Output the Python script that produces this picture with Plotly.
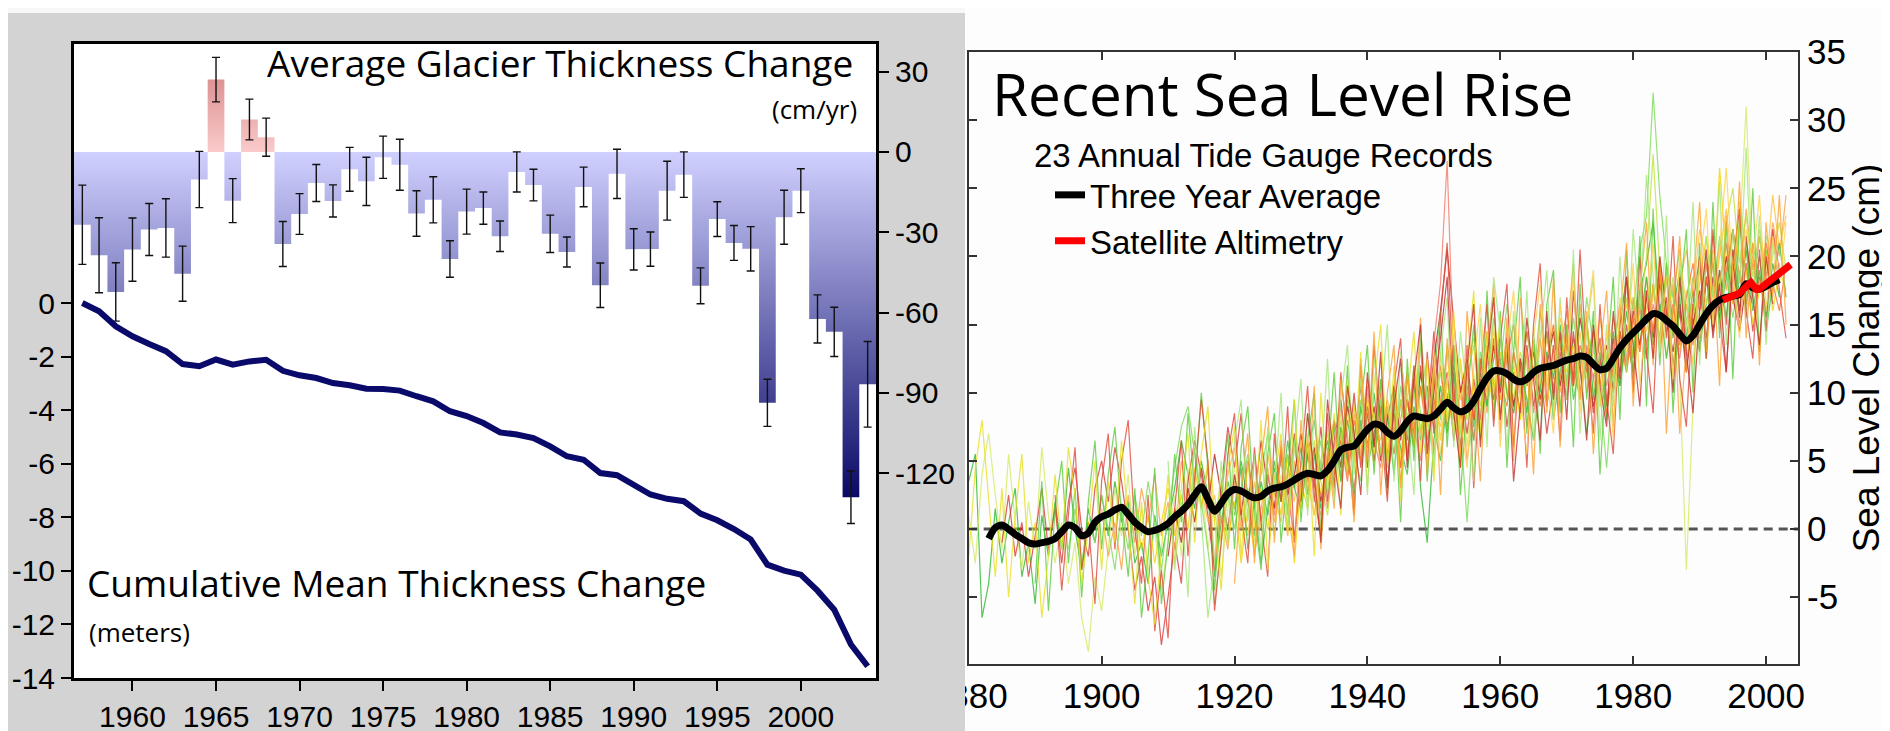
import plotly.graph_objects as go

W, H = 1890, 731
def px_x(p):
    return p / W
def px_y(p):
    return 1 - p / H

ARIAL = "Liberation Sans, Arial, sans-serif"
HUMAN = "Open Sans, Noto Sans, sans-serif"

# ---------------- Left chart: glaciers ----------------
glacier_years = list(range(1957, 2005))
thickness_change_cm_yr = [
    -27.2, -38.6, -52.3, -36.5, -29.0, -28.4, -45.5, -10.3, 27.0, -18.2,
    12.1, 5.5, -34.4, -23.2, -11.6, -18.3, -6.5, -11.0, -2.0, -4.8,
    -23.0, -17.9, -40.0, -22.3, -21.0, -31.5, -7.5, -12.4, -30.6, -37.4,
    -13.1, -49.8, -8.2, -36.4, -36.3, -14.5, -8.5, -50.0, -25.1, -34.0,
    -36.2, -93.7, -24.4, -14.5, -62.4, -67.2, -129.0, -86.8]
thickness_error_cm_yr = [
    14.8, 14.0, 10.9, 11.8, 9.7, 10.9, 10.3, 10.5, 8.3, 8.2,
    7.6, 7.1, 8.4, 7.6, 6.9, 6.0, 8.2, 9.0, 7.9, 9.5,
    8.5, 8.6, 6.8, 8.4, 6.0, 5.7, 7.5, 5.9, 7.0, 5.6,
    7.4, 8.3, 9.2, 7.7, 6.4, 11.0, 8.5, 6.7, 6.5, 6.5,
    8.3, 8.8, 10.1, 8.2, 9.0, 9.2, 9.8, 16.0]
cumulative_m = [
    0.0, -0.31, -0.87, -1.24, -1.53, -1.80, -2.28, -2.36, -2.11, -2.30,
    -2.18, -2.12, -2.53, -2.70, -2.80, -2.99, -3.07, -3.20, -3.21, -3.27,
    -3.48, -3.67, -4.04, -4.22, -4.48, -4.83, -4.91, -5.04, -5.35, -5.72,
    -5.85, -6.35, -6.43, -6.80, -7.15, -7.31, -7.40, -7.86, -8.11, -8.44,
    -8.83, -9.77, -9.99, -10.14, -10.74, -11.45, -12.75, -13.56]

glacier_x_ticks = [1960, 1965, 1970, 1975, 1980, 1985, 1990, 1995, 2000]
rate_ticks = [30, 0, -30, -60, -90, -120]
rate_tick_text = ["30", "0", "-30", "-60", "-90", "-120"]
cum_ticks = [0, -2, -4, -6, -8, -10, -12, -14]
cum_tick_text = ["0", "-2", "-4", "-6", "-8", "-10", "-12", "-14"]

# ---------------- Right chart: sea level ----------------
three_year_years = list(range(1883, 2003))
three_year_avg_cm = [
    -0.7, 0.1, 0.3, 0.0, -0.4, -0.7, -1.0, -1.1, -1.0, -0.9,
    -0.7, -0.2, 0.3, 0.1, -0.5, -0.3, 0.5, 0.9, 1.1, 1.4,
    1.6, 1.1, 0.5, 0.1, -0.2, -0.1, 0.1, 0.4, 0.9, 1.3,
    1.8, 2.5, 3.1, 2.2, 1.3, 1.9, 2.6, 2.9, 2.8, 2.5,
    2.3, 2.4, 2.8, 3.0, 3.1, 3.3, 3.6, 3.9, 4.1, 4.0,
    3.9, 4.3, 5.0, 5.8, 6.0, 6.1, 6.7, 7.3, 7.7, 7.6,
    7.1, 6.8, 7.2, 7.9, 8.3, 8.2, 8.1, 8.3, 8.8, 9.3,
    8.9, 8.6, 8.8, 9.4, 10.3, 11.1, 11.6, 11.6, 11.4, 11.0,
    10.8, 11.0, 11.5, 11.8, 11.9, 12.0, 12.2, 12.4, 12.5, 12.7,
    12.6, 12.1, 11.7, 11.8, 12.5, 13.3, 13.9, 14.4, 14.9, 15.4,
    15.8, 15.7, 15.3, 14.9, 14.3, 13.8, 14.2, 15.0, 15.8, 16.4,
    16.8, 17.0, 17.1, 17.2, 18.0, 17.7, 17.6, 17.8, 18.1, 18.3]
satellite_years = [1993.5, 1994, 1995, 1996, 1997, 1997.7, 1998.5, 1999, 2000, 2001, 2002, 2003, 2003.7]
satellite_cm = [16.8, 16.9, 17.1, 17.3, 17.8, 18.1, 17.6, 17.6, 18.0, 18.4, 18.8, 19.2, 19.4]

# tide gauge records (start year, annual values in cm)
gauge_a_start = 1880
gauge_a = [3.5, 5.5, -6.5, -4.0, 1.5, -2.5, 0.5, 3.0, -3.5, -1.0,
           -5.5, 1.0, -2.0, 2.0, -1.5, 4.5, 0.0, -3.0, 1.5, -1.0,
           2.5, -0.5, 3.5, 0.5, 2.0, -2.5, -1.0, -4.0, 1.0, -2.0,
           0.5, 3.0, 6.5, 4.0, 1.5, 5.0, 2.5, -3.5, 0.5, 3.5,
           1.5, 5.0, 2.0, -0.5, 3.5, 1.0, 4.5, 2.0, 5.5, 3.0,
           6.0, 2.5, 5.5, 1.5, 4.0, 7.5, 3.5, 8.0, 5.0, 9.0,
           6.0, 10.0, 5.5, 8.5, 4.0, 9.5, 6.5, 11.0, 3.0, -1.0,
           6.5, 10.5, 7.0, 11.5, 6.0, 10.0, 7.5, 12.5, 9.0, 14.0,
           10.5, 13.0, 9.0, 12.5, 8.5, 13.5, 10.0, 14.5, 11.0, 15.0,
           10.5, 14.0, 11.5, 15.5, 9.5, 13.0, 8.0, 14.5, 11.5, 16.0,
           12.5, 17.5, 19.5, 22.5, 16.0, 18.5, 14.0, 17.0, 11.5, 16.5,
           13.0, 18.5, 14.5, 19.0, 15.5, 20.5, 16.0, 21.0, 17.5, 20.0,
           15.5, 19.5, 17.0]
gauge_b_start = 1880
gauge_b = [1.0, -2.5, 4.0, 7.0, 2.5, -1.5, 5.5, 0.5, -3.0, 2.0,
           -1.5, 6.0, 1.0, -2.5, 0.5, -4.0, -1.0, -6.5, -9.0, -3.5,
           -6.0, -1.5, 3.0, -0.5, 4.0, -2.0, 1.5, -3.0, 0.0, -4.5,
           -1.0, 2.5, -2.0, 4.5, 0.5, 3.5, -1.5, 2.0, -3.5, 1.5,
           4.5, 0.5, 3.0, -1.0, 5.0, 2.0, -0.5, 4.0, 1.5, 6.0,
           2.5, 5.5, 1.0, 4.0, 7.5, 3.5, 8.5, 4.0, 9.5, 5.0,
           8.0, 4.5, 10.5, 6.0, 9.0, 5.5, 10.0, 6.5, 11.5, 7.0,
           10.0, 5.5, 11.0, 7.5, 12.0, 6.0, 11.5, 8.5, 13.5, 10.0,
           14.5, 9.5, 13.0, 8.0, 12.5, 9.5, 14.0, 10.5, 15.0, 9.0,
           13.5, 10.0, 16.0, 11.0, 14.5, 9.0, 13.0, 10.5, 15.5, 12.0,
           17.0, 13.5, 18.5, 14.0, 19.0, 12.5, 17.5, 11.0, -3.0, 9.0,
           16.0, 12.5, 18.0, 15.0, 20.0, 16.5, 21.5, 31.0, 19.0]
gauge_c_start = 1885
gauge_c = [-1.0, 2.5, -2.0, 0.5, -3.5, -0.5, 3.0, -1.5, 1.5, -2.5,
           2.0, 4.5, 0.0, -2.0, 3.0, 5.0, 2.0, 6.0, 3.5, 0.0,
           -4.5, -2.0, -6.0, -3.5, -8.5, -5.0, -1.0, -4.0, 3.5, 6.5,
           4.0, 1.0, -3.0, 3.0, 7.5, 4.5, 8.5, 2.0, 5.5, 0.5,
           4.0, 1.5, 6.0, 2.5, 7.0, 1.5, 5.5, 3.0, 7.5, 2.0,
           6.5, 9.5, 5.0, 10.0, 4.5, 8.5, 5.0, 9.0, 3.5, 7.5,
           4.5, 9.5, 6.0, 12.0, 8.0, 14.5, 9.0, 11.5, 6.5, 10.5,
           7.0, 11.0, 8.0, 13.0, 9.5, 12.5, 7.5, 11.5, 8.5, 13.5,
           9.0, 12.0, 7.0, 10.5, 13.0, 9.5, 14.5, 10.0, 13.0, 8.5,
           12.5, 9.0, 14.0, 10.5, 15.0, 11.5, 16.5, 12.5, 18.0, 13.5,
           17.0, 12.0, 16.0, 11.5, 15.5, 13.0, 18.5, 14.5, 19.0, 15.0,
           20.5, 16.0, 19.5, 14.5, 18.5, 16.0]
gauge_d_start = 1900
gauge_d = [1.5, -2.0, 0.5, -3.0, 2.5, -1.0, 3.0, 0.5, 4.0, -0.5,
           2.0, -1.5, 5.0, 2.0, 6.0, 1.5, 4.5, -2.5, 1.0, -1.5,
           3.5, 0.0, 2.5, -2.0, 1.5, 4.5, 0.5, 3.5, -0.5, 5.0,
           2.0, 6.5, 3.0, 1.0, 5.5, 2.5, 7.0, 4.0, 8.5, 5.5,
           10.0, 6.0, 9.0, 4.5, 8.0, 3.5, 7.5, 11.0, 7.0, 10.5,
           5.5, 9.5, 13.0, 8.0, 10.5, 5.0, 9.0, 12.0, 8.5, 13.5,
           9.5, 14.5, 8.5, 12.0, 7.5, 11.5, 14.0, 9.0, 13.5, 10.0,
           15.0, 11.0, 16.5, 12.0, 10.0, 14.0, 8.5, 13.0, 16.5, 12.0,
           17.0, 13.0, 18.5, 14.5, 20.0, 15.0, 18.0, 7.0, 13.5, 16.5,
           14.0, 19.5, 15.5, 21.0, 17.5, 22.0, 18.0, 23.5, 19.0, 21.5,
           18.5, 22.5, 20.0, 24.5]
gauge_e_start = 1905
gauge_e = [2.0, -1.5, 1.0, -2.5, 0.5, 3.0, -0.5, 2.5, 0.0, 4.5,
           1.5, 5.0, 0.5, 3.5, -1.0, 2.0, -2.5, 1.5, -1.5, 3.0,
           0.0, 4.0, 1.0, 5.5, -2.5, 3.5, 1.5, 6.0, 2.5, 5.0,
           3.0, 7.5, 4.5, 9.0, 6.0, 9.5, 5.5, 8.5, 6.5, 10.0,
           5.0, 8.5, 6.0, 10.5, 7.5, 11.0, 6.5, 10.0, 7.0, 12.5,
           8.0, 10.5, 6.5, 11.5, 9.0, 13.0, 10.0, 12.0, 8.0, 11.0,
           13.5, 9.5, 12.5, 10.0, 14.0, 11.5, 13.5, 9.5, 12.5, 14.5,
           10.5, 13.5, 11.0, 14.0, 16.5, 12.5, 15.5, 13.0, 18.0, 14.0,
           19.5, 15.5, 13.0, 16.5, 14.5, 18.0, 21.5, 17.0, 26.5, 20.0,
           18.0, 22.5, 19.0, 15.0, 17.5, 20.5, 16.0, 19.0, 17.5]
gauge_f_start = 1895
gauge_f = [-1.5, 1.5, -2.5, 0.5, -1.0, 2.5, 0.0, -3.0, 1.5, -1.5,
           2.5, -0.5, 3.5, 0.5, -3.0, 1.0, 4.5, 7.5, 9.0, 5.5,
           2.0, -1.5, -5.5, -1.0, 2.5, 0.0, 3.0, 5.5, 1.5, 4.0,
           7.0, 2.5, 5.0, 1.0, 6.5, 3.0, 8.5, 4.0, 6.5, 2.5,
           8.0, 4.5, 9.5, 5.5, 3.5, 9.0, 6.0, 11.0, 7.5, 5.5,
           10.5, 7.0, 12.0, 8.5, 6.0, 11.5, 8.0, 13.5, 10.0, 7.5,
           0.5, 8.5, 13.0, 10.5, 15.5, 12.0, 16.5, 13.0, 10.5, 14.5,
           11.0, 16.0, 12.5, 9.0, 13.5, 11.0, 15.5, 12.0, 17.0, 13.5,
           10.0, 4.5, 11.5, 15.0, 18.5, 16.0, 20.5, 23.0, 32.0, 24.5,
           19.5, 17.0, 20.5, 15.0, 18.5, 16.5, 20.0, 17.0, 21.5, 18.5,
           15.5, 19.0, 17.0, 21.0, 18.0, 20.5, 17.5, 19.5]
gauge_g_start = 1910
gauge_g = [-2.0, 1.5, -1.0, 3.0, 0.5, 4.5, 1.5, 5.5, 2.5, 0.0,
           4.0, 1.0, 5.0, 2.0, 6.5, 3.0, 1.5, 5.5, 2.5, 4.0,
           7.0, 3.5, 6.0, 2.0, 5.0, 8.0, 4.5, 9.0, 6.5, 10.5,
           6.0, 9.0, 5.0, 8.0, 10.5, 6.5, 9.5, 7.0, 11.5, 8.0,
           12.5, 16.0, 20.5, 15.5, 10.0, 12.5, 8.0, 11.0, 9.5, 13.5,
           10.0, 14.0, 9.0, 12.5, 10.5, 13.0, 9.5, 12.0, 14.5, 10.5,
           13.5, 11.0, 15.5, 12.5, 9.0, 11.5, 13.5, 10.0, 14.5, 12.0,
           16.0, 13.5, 17.0, 14.0, 18.0, 15.5, 13.0, 16.5, 12.0, 15.0,
           17.5, 14.0, 18.5, 16.0, 20.0, 17.0, 14.5, 18.0, 16.5]
gauge_h_start = 1915
gauge_h = [3.0, 0.5, 2.5, -1.0, 4.0, 6.0, 2.0, -0.5, 3.5, 0.0,
           5.5, 2.5, 0.5, 4.5, 2.0, 6.5, 3.5, 1.0, 5.0, 7.0,
           4.0, 6.5, 8.5, 5.0, 7.5, 11.0, 8.0, 6.5, 9.5, 7.0,
           9.0, 11.5, 8.0, 10.0, 12.5, 9.0, 7.5, 11.0, 13.5, 9.5,
           12.0, 14.0, 10.5, 13.5, 11.0, 9.5, 12.5, 15.0, 11.0, 9.0,
           12.0, 10.5, 14.0, 11.5, 15.5, 13.0, 11.0, 14.5, 10.0, 13.0,
           15.5, 12.0, 10.0, 13.5, 11.5, 15.0, 18.0, 14.5, 17.0, 19.5,
           16.0, 14.5, 18.0, 20.5, 17.0, 22.0, 19.5, 16.5, 20.0, 23.5,
           19.0, 24.0, 20.5, 17.5, 22.0, 19.0, 24.5, 20.5, 23.0]
gauge_i_start = 1920
gauge_i = [1.0, 4.5, -1.5, 2.0, -2.5, 1.5, 5.0, 2.0, 6.5, 3.0,
           1.5, 5.5, 8.0, 4.0, 6.5, 3.0, 7.5, 5.0, 2.5, 8.0,
           4.5, 7.0, 9.5, 5.0, 8.5, 6.0, 4.0, 9.0, 6.5, 10.5,
           7.5, 5.0, 9.5, 12.0, 8.0, 10.0, 6.5, 11.5, 9.0, 12.5,
           14.0, 10.0, 8.5, 12.0, 9.5, 6.5, 10.5, 13.0, 8.0, 11.5,
           14.5, 9.5, 12.0, 7.0, 11.0, 14.0, 9.0, 12.5, 10.5, 14.0,
           11.5, 15.0, 18.5, 13.5, 16.5, 12.5, 16.0, 19.0, 14.0, 17.5,
           13.5, 16.5, 19.5, 15.5, 18.5, 22.0, 17.0, 20.5, 16.0, 19.0,
           14.5, 18.0, 21.0, 17.0]
gauge_j_start = 1925
gauge_j = [4.0, 1.0, 5.5, 2.5, -0.5, 3.5, 6.5, 2.0, 5.0, 1.5,
           6.0, 9.0, 5.5, 3.0, 7.0, 10.5, 6.5, 4.5, 9.0, 5.5,
           8.0, 11.0, 7.5, 5.0, 9.5, 13.5, 18.0, 27.0, 12.0, 8.0,
           11.5, 6.5, 10.0, 14.5, 10.5, 8.5, 12.5, 15.0, 10.5, 13.0,
           8.5, 11.5, 14.5, 10.0, 13.0, 16.0, 12.0, 9.5, 13.5, 11.0,
           14.0, 10.5, 13.0, 16.5, 12.5, 15.5, 17.5, 13.5, 16.5, 14.0,
           18.5, 15.0, 12.5, 16.5, 13.5, 17.0, 19.5, 15.5, 18.0, 21.0,
           17.5, 15.0, 19.5, 17.0, 21.5, 18.0, 22.0, 19.0]
gauge_k_start = 1930
gauge_k = [5.0, 2.0, 6.5, 3.5, 1.0, 5.5, 8.0, 4.0, 7.0, 9.5,
           6.0, 8.5, 5.5, 9.0, 6.5, 9.5, 5.5, 10.0, 7.5, 5.0,
           9.0, 11.5, 8.0, 10.5, 7.0, 11.0, 13.5, 9.0, 12.0, 14.5,
           11.5, 13.5, 9.5, 13.0, 10.5, 14.0, 11.0, 9.0, 12.5, 14.0,
           10.5, 13.0, 11.5, 15.0, 12.0, 9.5, 12.5, 15.5, 12.0, 17.0,
           13.5, 16.0, 20.0, 27.5, 19.0, 15.5, 18.5, 14.0, 17.5, 15.5,
           19.0, 16.5, 20.5, 17.5, 22.5, 25.0, 19.5, 23.0, 18.5, 21.5,
           17.5, 20.0, 22.5, 19.0]
gauge_l_start = 1935
gauge_l = [4.0, 6.5, 3.5, 8.0, 5.0, 9.0, 6.0, 10.0, 5.5, 8.5,
           4.5, 9.5, 7.0, 10.5, 6.5, 9.0, 12.0, 7.5, 10.0, 6.0,
           10.5, 8.0, 12.5, 10.0, 14.0, 11.0, 9.0, 13.0, 10.0, 14.5,
           11.5, 9.0, 12.5, 15.0, 11.0, 14.0, 10.5, 13.5, 11.5, 14.5,
           11.0, 8.5, 12.0, 14.5, 11.5, 15.5, 13.0, 17.5, 14.5, 18.5,
           14.5, 16.5, 13.5, 17.0, 19.5, 16.0, 18.0, 21.5, 16.5, 19.0,
           22.0, 18.5, 16.5, 20.0, 17.5, 21.0, 18.0, 16.0, 19.5]
gauge_m_start = 1890
gauge_m = [-4.0, 3.5, -6.0, 1.5, 5.0, -2.5, 3.0, -5.0, 2.0, 6.5,
           -1.5, 4.0, 7.5, 1.0, -3.5, 3.0, -6.5, -2.0, 4.5, -5.5,
           -1.0, 5.5, 0.5, 8.5, 3.0, 10.0, 4.5, -4.5, 2.0, 7.0,
           -1.5, 6.0, 9.0, 1.0, -3.0, 5.5, 8.5, -1.0, 4.0, 9.5,
           0.5, 6.5, 10.0, -0.5, 5.0, 11.5, 3.5, 12.0, 1.5, 9.0,
           13.5, 4.0, 11.0, 2.5, 10.0, 0.5, 12.5, 5.0, 14.0, 3.5,
           11.0, 16.0, 6.0, 13.5, 2.5, 9.5, 15.0, 6.5, 17.5, 8.0,
           16.0, 4.5, 13.0, 18.5, 7.0, 14.5, 5.5, 16.5, 19.0, 8.5,
           15.0, 6.0, 18.0, 9.5, 16.0, 4.0, 12.0, 18.5, 8.0, 20.5,
           11.0, 21.5, 9.0, 23.5, 12.0, 19.5, 8.5, 17.0, 22.0, 10.0,
           21.0, 12.5, 24.0, 14.0, 22.5, 11.0, 23.0, 15.5, 25.0, 13.0,
           21.5]
gauge_n_start = 1893
gauge_n = [2.5, -4.5, 1.0, 6.0, -3.0, 0.5, -5.5, 3.5, 7.0, -1.5,
           5.0, 8.0, 0.0, -4.0, 2.5, -7.5, -3.0, -8.0, 1.5, 6.5,
           -2.0, 4.0, 9.5, 5.0, -6.0, -1.0, 5.5, 8.5, 1.0, -2.5,
           6.0, 0.5, -3.5, 7.0, 2.0, 9.0, -1.0, 5.0, 10.5, 2.5,
           -0.5, 8.5, 3.0, 11.5, 6.5, 1.0, 12.5, 4.5, 13.5, 8.0,
           2.0, 10.5, 14.0, 5.0, 12.0, 3.5, 13.0, 7.0, 15.5, 21.0,
           10.5, 5.5, 13.5, 3.0, 11.5, 16.5, 7.5, 14.0, 18.0, 6.0,
           12.5, 4.5, 15.0, 19.5, 9.0, 13.5, 6.5, 17.0, 10.5, 20.5,
           12.0, 7.0, 16.5, 9.5, 5.5, 15.0, 18.5, 10.0, 20.0, 13.0,
           8.5, 19.0, 14.0, 21.5, 11.0, 7.5, 16.5, 20.0, 12.5, 22.0,
           15.5, 11.5, 19.5, 23.5, 16.0, 12.5, 20.5, 14.5, 22.0, 17.5,
           14.0]
gauge_o_start = 1880
gauge_o = [-2.0, 4.5, 8.0, 2.0, -3.5, 3.0, -5.0, 1.0, 5.5, -2.5,
           0.5, -6.5, -2.0, 4.0, -1.5, 6.0, 2.5, -4.0, 0.0, 5.0,
           -3.0, 3.5, -1.0, 6.5, 0.5, -5.5, 2.0, -3.5, -7.0, -1.5,
           4.0, -2.5, 3.0, 7.0, -1.0, 5.5, 9.0, 0.5, -4.5, 4.5,
           7.5, -2.0, 5.0, 0.0, 8.0, -3.0, 3.5, 7.0, -0.5, 9.5,
           1.5, 7.0, -2.0, 10.0, 3.0, 8.5, 1.0, 11.0, 4.5, 13.0,
           3.0, 10.5, 15.0, 4.5, 12.0, 2.0, 9.5, 14.5, 5.5, 12.5,
           3.5, 13.0, 8.0, 16.0, 5.0, 12.0, 17.5, 7.0, 14.5, 10.0,
           15.5]
gauge_p_start = 1920
gauge_p = [-4.0, 3.0, 7.0, -2.5, 5.0, 9.0, -1.0, 6.5, 1.5, -2.0,
           8.0, 2.5, 10.5, -1.5, 6.0, 1.5, 11.0, 7.0, 0.5, 12.0,
           5.0, 14.5, 2.5, 10.0, 13.5, 3.0, 11.5, 6.5, 15.5, 4.0,
           12.5, 2.5, 14.0, 9.0, 4.5, 16.0, 10.5, 3.5, 13.0, 18.0,
           7.0, 15.5, 5.0, 17.0, 12.5, 4.0, 16.5, 8.5, 18.5, 6.0,
           14.0, 19.5, 9.5, 16.0, 5.5, 13.0, 17.5, 7.5, 15.5, 21.0,
           9.0, 17.5, 22.5, 12.0, 19.5, 7.0, 16.0, 21.5, 11.5, 18.0,
           24.0, 13.0, 20.0, 10.5, 23.0, 16.5, 25.5, 14.0, 21.0, 12.0,
           22.5, 17.0, 24.5, 15.0]
gauge_q_start = 1910
gauge_q = [5.0, -3.0, 2.0, -5.0, 7.5, 1.0, -6.5, -2.5, 5.0, -1.0,
           6.5, 9.5, 0.5, 5.5, -2.0, 7.5, 3.0, 10.0, 0.0, 6.0,
           11.0, 1.0, 8.5, 4.5, 12.5, 2.0, 9.5, 13.5, 4.0, 11.0,
           2.5, 12.5, 9.0, 15.0, 3.5, 13.0, 8.0, 2.5, 14.5, 9.5,
           4.5, 13.0, 17.0, 6.0, 14.5, 10.0, 3.5, 15.5, 6.0, 18.5,
           14.5, 5.5, 16.0, 9.5, 17.5, 6.5, 14.0, 19.0, 8.0, 17.0,
           9.5, 20.5, 7.0, 14.5, 18.5, 6.5, 15.0, 9.0, 20.0, 11.5,
           22.0, 16.0, 26.0, 18.5, 13.0, 23.0, 10.5, 19.5, 14.5, 24.0,
           12.0, 21.5, 17.0, 25.5, 13.5, 22.0, 18.0, 28.0, 16.5, 23.0,
           13.5, 21.0, 18.5]
gauge_r_start = 1930
gauge_r = [2.0, 8.5, 4.0, -1.0, 9.5, 5.0, 1.5, 10.5, 7.0, 2.5,
           11.5, 6.0, 13.0, 3.0, 9.0, 12.5, 4.5, 11.0, 15.0, 5.5,
           10.0, 14.0, 18.5, 8.5, 4.5, 12.0, 16.5, 6.0, 12.5, 17.0,
           8.0, 13.5, 3.5, 9.0, 15.5, 11.0, 6.5, 16.0, 9.5, 14.5,
           8.0, 17.5, 12.0, 6.5, 15.0, 10.5, 7.5, 16.0, 11.0, 18.5,
           13.5, 9.0, 17.5, 12.5, 20.0, 16.0, 10.0, 18.5, 13.0, 8.5,
           16.0, 20.5, 14.0, 18.0, 11.5, 19.5, 15.5, 21.5, 17.0, 13.5,
           20.0, 16.5]
gauge_s_start = 1950
gauge_s = [13.0, 6.5, 10.5, 15.5, 8.0, 4.5, 12.0, 16.5, 9.5, 15.0,
           6.0, 13.5, 17.5, 10.0, 5.5, 14.0, 18.0, 11.0, 7.0, 16.5,
           12.0, 18.5, 8.5, 15.0, 19.0, 9.0, 14.5, 6.5, 17.0, 13.0,
           19.5, 10.5, 16.0, 21.0, 13.5, 18.5, 11.0, 20.0, 16.5, 12.0,
           19.5, 23.5, 15.0, 21.0, 26.5, 18.5, 14.0, 22.0, 19.5, 24.5,
           16.0, 21.5, 18.0, 22.5]

gauge_records = [
    (gauge_a_start, gauge_a, "#2eb82e"),
    (gauge_b_start, gauge_b, "#d6ea66"),
    (gauge_c_start, gauge_c, "#d83a3a"),
    (gauge_d_start, gauge_d, "#ff9f45"),
    (gauge_e_start, gauge_e, "#f2d500"),
    (gauge_f_start, gauge_f, "#7ddc5a"),
    (gauge_g_start, gauge_g, "#b82222"),
    (gauge_h_start, gauge_h, "#ffbf3a"),
    (gauge_i_start, gauge_i, "#3fbf3f"),
    (gauge_j_start, gauge_j, "#f07a6a"),
    (gauge_k_start, gauge_k, "#bfe23a"),
    (gauge_l_start, gauge_l, "#ff6d2e"),
    (gauge_m_start, gauge_m, "#5ccc3c"),
    (gauge_n_start, gauge_n, "#e04a3a"),
    (gauge_o_start, gauge_o, "#e8e020"),
    (gauge_p_start, gauge_p, "#ffa030"),
    (gauge_q_start, gauge_q, "#a6e67a"),
    (gauge_r_start, gauge_r, "#c03030"),
    (gauge_s_start, gauge_s, "#ffd24a"),
]

sea_x_ticks = [1880, 1900, 1920, 1940, 1960, 1980, 2000]
sea_y_ticks = [-5, 0, 5, 10, 15, 20, 25, 30, 35]
sea_y_text = ["-5", "0", "5", "10", "15", "20", "25", "30", "35"]

fig = go.Figure()

# --- glacier bars drawn as step polygons with a vertical gradient ---
def step_outline(years, vals, negative):
    xs = [years[0] - 0.5]
    ys = [0]
    for yr, v in zip(years, vals):
        h = min(v, 0) if negative else max(v, 0)
        xs += [yr - 0.5, yr + 0.5]
        ys += [h, h]
    xs.append(years[-1] + 0.5)
    ys.append(0)
    return xs, ys

nx, ny = step_outline(glacier_years, thickness_change_cm_yr, True)
fig.add_trace(go.Scatter(
    x=nx, y=ny, mode="lines", fill="toself", line=dict(width=0),
    fillgradient=dict(type="vertical", start=-135, stop=0,
                      colorscale=[[0, "#00005f"], [1, "#d0d0ff"]]),
    xaxis="x", yaxis="y", showlegend=False, hoverinfo="skip"))
px_, py_ = step_outline(glacier_years, thickness_change_cm_yr, False)
fig.add_trace(go.Scatter(
    x=px_, y=py_, mode="lines", fill="toself", line=dict(width=0),
    fillgradient=dict(type="vertical", start=0, stop=30,
                      colorscale=[[0, "#fbcaca"], [1, "#d98d8d"]]),
    xaxis="x", yaxis="y", showlegend=False, hoverinfo="skip"))
fig.add_trace(go.Scatter(
    x=glacier_years, y=thickness_change_cm_yr, mode="markers",
    marker=dict(size=1, opacity=0),
    error_y=dict(type="data", array=thickness_error_cm_yr, visible=True,
                 color="#111111", thickness=1.4, width=4),
    xaxis="x", yaxis="y", showlegend=False))
fig.add_trace(go.Scatter(
    x=glacier_years, y=cumulative_m, mode="lines",
    line=dict(color="#0a0a6a", width=6),
    xaxis="x", yaxis="y2", showlegend=False))

# --- sea level ---
for start, vals, col in gauge_records:
    yrs = list(range(start, start + len(vals)))
    fig.add_trace(go.Scatter(
        x=yrs, y=vals, mode="lines", line=dict(color=col, width=1.2),
        opacity=0.8, xaxis="x3", yaxis="y3", showlegend=False))

fig.add_trace(go.Scatter(
    x=three_year_years, y=three_year_avg_cm, mode="lines",
    name="Three Year Average",
    line=dict(color="black", width=7, shape="spline", smoothing=0.7),
    xaxis="x3", yaxis="y3"))
fig.add_trace(go.Scatter(
    x=satellite_years, y=satellite_cm, mode="lines",
    name="Satellite Altimetry", line=dict(color="#ff0000", width=7),
    xaxis="x3", yaxis="y3"))

left_dom_x = [px_x(66), px_x(868)]
left_dom_y = [px_y(670), px_y(36)]
right_dom_x = [px_x(960.7), px_x(1790)]
right_dom_y = [px_y(656), px_y(44)]

fig.update_layout(
    width=W, height=H, margin=dict(l=0, r=0, t=0, b=0, autoexpand=False),
    paper_bgcolor="#d3d3d3", plot_bgcolor="white",
    xaxis=dict(domain=left_dom_x, range=[1956.5, 2004.5], anchor="y", automargin=False,
               tickvals=glacier_x_ticks, ticks="outside", ticklen=10, tickwidth=2,
               tickcolor="black", showline=True, linewidth=3, linecolor="black",
               mirror=True, showgrid=False, zeroline=False,
               tickfont=dict(family=ARIAL, size=30, color="black")),
    yaxis=dict(domain=left_dom_y, range=[-196.5, 40.3], anchor="x", side="right",
               automargin=False,
               tickvals=rate_ticks, ticktext=rate_tick_text, ticks="outside",
               ticklen=10, tickwidth=2, tickcolor="black", showline=True,
               linewidth=3, linecolor="black", showgrid=False, zeroline=False,
               tickfont=dict(family=ARIAL, size=30, color="black")),
    yaxis2=dict(overlaying="y", range=[-14, 9.67], anchor="x", side="left",
                automargin=False,
                tickvals=cum_ticks, ticktext=cum_tick_text, ticks="outside",
                ticklen=10, tickwidth=2, tickcolor="black", showline=True,
                linewidth=3, linecolor="black", showgrid=False, zeroline=False,
                tickfont=dict(family=ARIAL, size=30, color="black")),
    xaxis3=dict(domain=right_dom_x, range=[1880, 2004.8], anchor="y3", automargin=False,
                tickvals=sea_x_ticks, ticks="inside", ticklen=8, tickwidth=2,
                tickcolor="#333", showline=True, linewidth=2, linecolor="#333",
                mirror="ticks", showgrid=False, zeroline=False,
                tickfont=dict(family=ARIAL, size=35, color="black")),
    yaxis3=dict(domain=right_dom_y, range=[-9.9, 35], anchor="x3", side="right",
                automargin=False,
                tickvals=sea_y_ticks, ticktext=sea_y_text, ticks="inside",
                ticklen=8, tickwidth=2, tickcolor="#333", showline=True,
                linewidth=2, linecolor="#333", mirror="ticks", showgrid=False,
                zeroline=False, tickfont=dict(family=ARIAL, size=35, color="black"),
                title=dict(text="Sea Level Change (cm)", standoff=8,
                           font=dict(family=ARIAL, size=37, color="black"))),
    legend=dict(x=px_x(1024), y=px_y(116), xanchor="left", yanchor="top",
                bgcolor="rgba(0,0,0,0)", borderwidth=0, indentation=18,
                font=dict(family=ARIAL, size=33, color="black"),
                title=dict(text="23 Annual Tide Gauge Records",
                           font=dict(family=ARIAL, size=33, color="black")),
                itemwidth=30, tracegroupgap=0),
    shapes=[
        dict(type="rect", xref="paper", yref="paper", x0=px_x(957), x1=1,
             y0=0, y1=1, fillcolor="#fdfdfd", line=dict(width=0), layer="below"),
        dict(type="rect", xref="paper", yref="paper", x0=0, x1=px_x(957),
             y0=px_y(5), y1=1, fillcolor="#f7f7f7", line=dict(width=0), layer="below"),
        dict(type="line", xref="x3 domain", yref="y3", x0=0, x1=1, y0=0, y1=0,
             line=dict(color="#555555", width=3, dash="9px,6px"), layer="below"),
        dict(type="rect", xref="paper", yref="paper", x0=px_x(874), x1=px_x(957),
             y0=0, y1=px_y(660), fillcolor="#d3d3d3", line=dict(width=0), layer="above"),
    ],
    annotations=[
        dict(text="Average Glacier Thickness Change", xref="paper", yref="paper",
             x=px_x(847), y=px_y(55), xanchor="right", yanchor="middle",
             showarrow=False, font=dict(family=HUMAN, size=37, color="black")),
        dict(text="(cm/yr)", xref="paper", yref="paper",
             x=px_x(851), y=px_y(101), xanchor="right", yanchor="middle",
             showarrow=False, font=dict(family=HUMAN, size=26, color="black")),
        dict(text="Cumulative Mean Thickness Change", xref="paper", yref="paper",
             x=px_x(77), y=px_y(574), xanchor="left", yanchor="middle",
             showarrow=False, font=dict(family=HUMAN, size=37, color="black")),
        dict(text="(meters)", xref="paper", yref="paper",
             x=px_x(79), y=px_y(624), xanchor="left", yanchor="middle",
             showarrow=False, font=dict(family=HUMAN, size=26, color="black")),
        dict(text="Recent Sea Level Rise", xref="paper", yref="paper",
             x=px_x(982), y=px_y(85), xanchor="left", yanchor="middle",
             showarrow=False, font=dict(family=HUMAN, size=58.5, color="black")),
    ],
)

fig.write_html("out.html")
